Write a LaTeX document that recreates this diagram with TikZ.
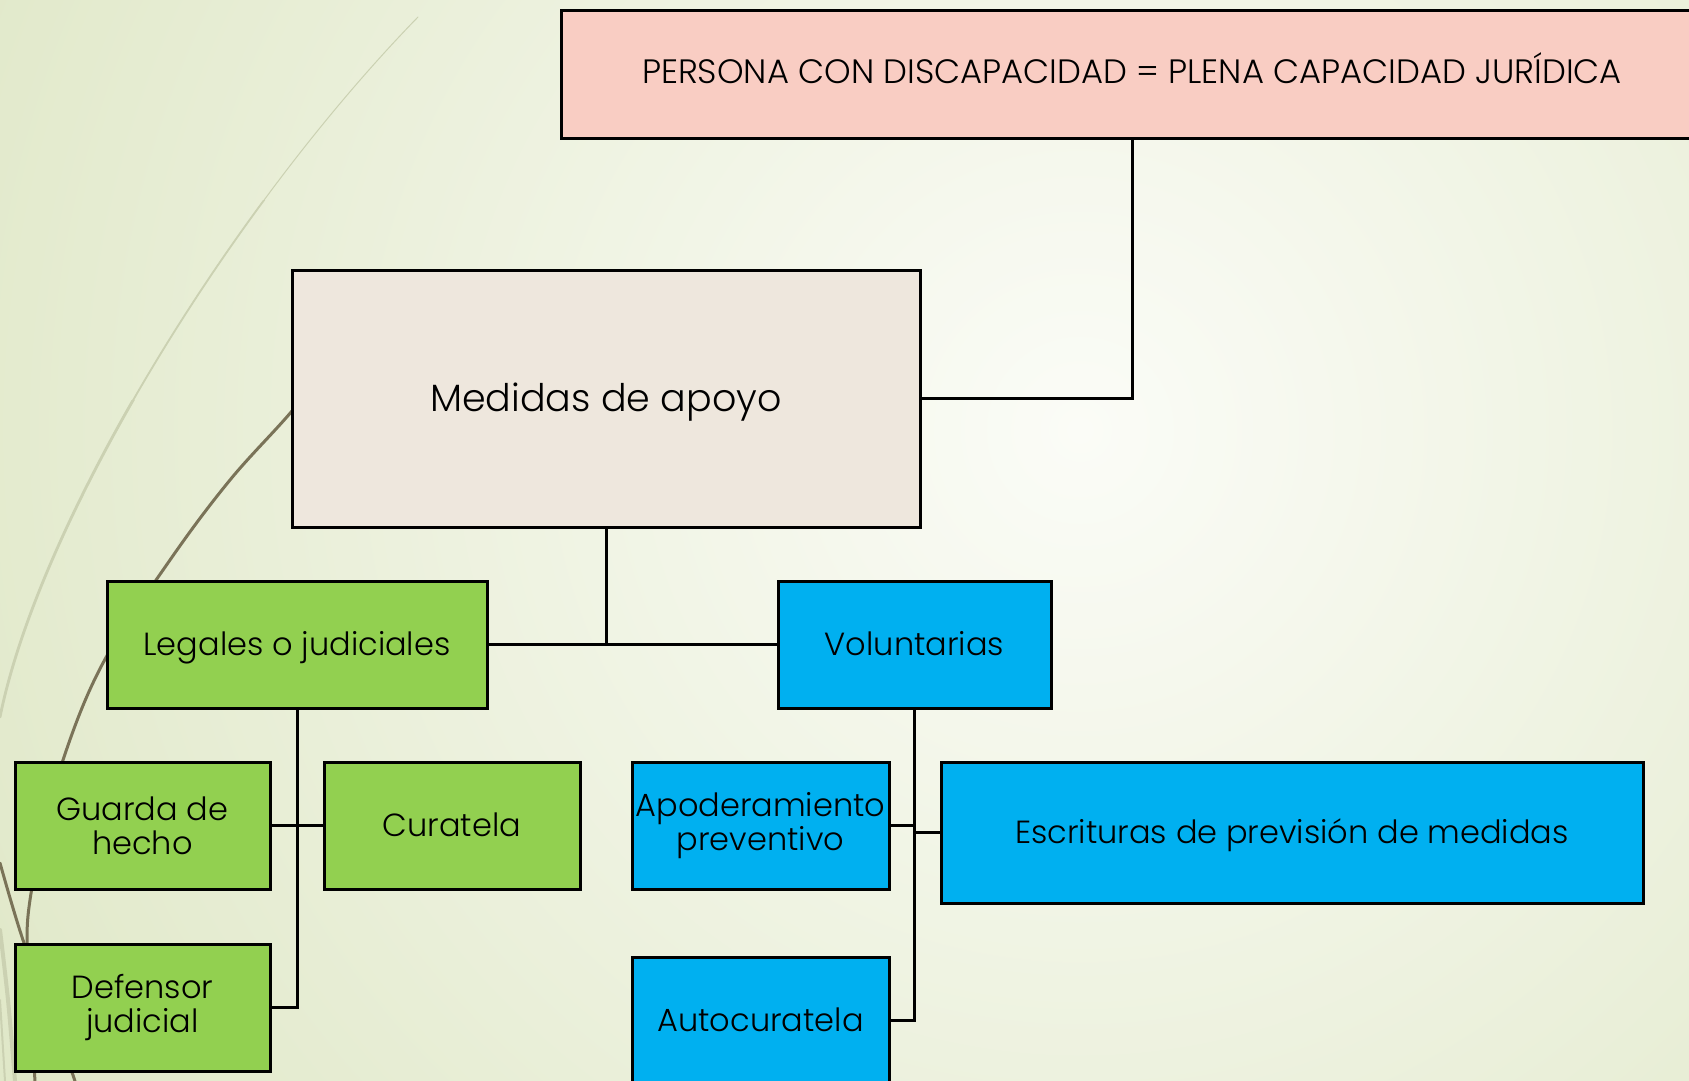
\documentclass[tikz,border=0pt]{standalone}
\usepackage{fontspec}
\setmainfont{Poppins}[UprightFont=* Light]
\definecolor{bgout}{HTML}{E0E8C8}
\definecolor{bgin}{HTML}{FBFCF7}
\definecolor{pinkc}{HTML}{F9CDC3}
\definecolor{beigec}{HTML}{EEE7DD}
\definecolor{greenc}{HTML}{92D050}
\definecolor{bluec}{HTML}{00B0F0}
\definecolor{wispdark}{HTML}{7A7358}
\definecolor{wisppale}{HTML}{CBD1B2}
\newcommand\fsTop{\fontsize{33.8}{35}\selectfont}
\newcommand\fsMid{\fontsize{38}{40}\selectfont}
\newcommand\fsBox{\fontsize{32}{34}\selectfont}
\tikzset{
  box/.style={draw=black, line width=3pt, rectangle, inner sep=0pt, align=center, text=black, font=\fsBox},
  oneline/.style={text height=22.3pt, text depth=0pt},
  conn/.style={draw=black, line width=3pt},
  wispd/.style={draw=wispdark, line width=3pt, line cap=round},
  wispp/.style={draw=wisppale, line width=2.5pt, line cap=round},
}
\begin{document}
\begin{tikzpicture}[x=1pt,y=-1pt]
\useasboundingbox (0,0) rectangle (1689,1081);
\begin{scope}
\clip (0,0) rectangle (1689,1081);
\fill[bgout] (0,0) rectangle (1689,1081);
\shade[inner color=bgin, outer color=bgout] (1080,430) circle (1250);
% decorative wisps (pale line widening downwards)
\draw[wispp, line width=1pt] (418,17) .. controls (230,210) and (40,520) .. (0,717);
\begin{scope}
\clip (0,200) rectangle (500,1081);
\draw[wispp, line width=1.8pt] (418,17) .. controls (230,210) and (40,520) .. (0,717);
\end{scope}
\begin{scope}
\clip (0,400) rectangle (500,1081);
\draw[wispp, line width=2.8pt] (418,17) .. controls (230,210) and (40,520) .. (0,717);
\end{scope}
\draw[wispd] plot[smooth, tension=0.6] coordinates {(340,350) (292,411) (230,480) (170,560) (103,663) (63,760) (40,850) (30,900) (27,940) (30,1000) (35,1081)};
\draw[wispd] plot[smooth, tension=0.6] coordinates {(0,863) (23,940) (50,1010) (75,1081)};
\draw[wispp, line width=4pt] plot[smooth, tension=0.6] coordinates {(0,930) (8,1000) (15,1081)};
\draw[wispp, line width=2pt] plot[smooth, tension=0.6] coordinates {(0,1000) (5,1081)};

% nodes
\node[box, fill=pinkc, minimum width=1142pt, minimum height=127pt, font=\fsTop, text height=23.5pt, text depth=0pt] (pink) at (1132,74.5) {\raisebox{3pt}[\height][\depth]{PERSONA CON DISCAPACIDAD = PLENA CAPACIDAD JURÍDICA}};
\node[box, fill=beigec, minimum width=628pt, minimum height=257pt, font=\fsMid, text height=26.5pt, text depth=0pt] (medidas) at (606,398.5) {Medidas de apoyo};
\node[box, oneline, fill=greenc, minimum width=380pt, minimum height=127pt] (legales) at (297,644.5) {Legales o judiciales};
\node[box, oneline, fill=bluec, minimum width=273pt, minimum height=127pt] (vol) at (914.5,644.5) {Voluntarias};
\node[box, fill=greenc, minimum width=255pt, minimum height=127pt] (guarda) at (142.5,825.5) {Guarda de\\hecho};
\node[box, oneline, fill=greenc, minimum width=256pt, minimum height=127pt] (curatela) at (452,825.5) {Curatela};
\node[box, fill=greenc, minimum width=255pt, minimum height=127pt] (defensor) at (142.5,1007.5) {Defensor\\judicial};
\node[box, fill=bluec, minimum width=257pt, minimum height=127pt] (apod) at (760.5,825.5) {Apoderamiento\\preventivo};
\node[box, oneline, fill=bluec, minimum width=702pt, minimum height=141pt] (escr) at (1292,832.5) {Escrituras de previsión de medidas};
\node[box, oneline, fill=bluec, minimum width=257pt, minimum height=127pt] (auto) at (760.5,1020.5) {Autocuratela};

% connectors
\draw[conn] (medidas.east) -| (pink.south);
\draw[conn] (legales.east) -- (vol.west);
\draw[conn] (medidas.south) -- (medidas.south |- legales.east);
\draw[conn] (legales.south) |- (defensor.east);
\draw[conn] (guarda.east) -- (curatela.west);
\draw[conn] (vol.south) |- (auto.east);
\draw[conn] (apod.east) -- (apod.east -| vol.south);
\draw[conn] (escr.west) -- (escr.west -| vol.south);
\end{scope}
\end{tikzpicture}
\end{document}
